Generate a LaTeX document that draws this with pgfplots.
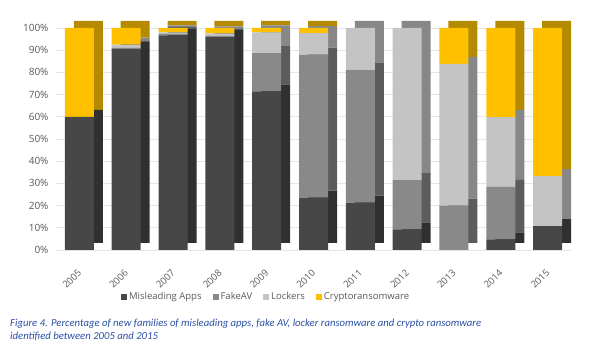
\documentclass[border=0pt]{standalone}
\usepackage{pgfplots}
\pgfplotsset{compat=1.18}
\usepackage{pgfplotstable}
\usepackage{fontspec}
\setmainfont{Carlito}
\newfontfamily\ticksfont{Open Sans}
\definecolor{cM}{HTML}{474747}
\definecolor{cF}{HTML}{898989}
\definecolor{cL}{HTML}{C4C4C4}
\definecolor{cC}{HTML}{FFC000}
\definecolor{cMd}{HTML}{303030}
\definecolor{cFd}{HTML}{5C5C5C}
\definecolor{cLd}{HTML}{878787}
\definecolor{cCd}{HTML}{B48A00}
\definecolor{cT}{HTML}{595959}
\definecolor{capblue}{HTML}{2A4FA5}
\pgfplotstableread{
x M F L C
0 60 0 0 40
1 90.5 0.5 1.5 7.5
2 96.7 0.6 0.7 2.0
3 95.9 0.5 1.2 2.4
4 71.5 17.2 9.3 2.0
5 23.6 64.4 9.7 2.3
6 21.3 59.7 19.0 0
7 9.3 22.2 68.5 0
8 0 20 63.8 16.2
9 4.8 23.6 31.4 40.2
10 10.8 0 22.5 66.7
}\data
\pgfplotsset{common/.style={
  width=515pt, height=222pt, scale only axis,
  at={(56pt,102pt)}, anchor=south west,
  xmin=-0.5, xmax=10.5, ymin=0, ymax=100,
  ybar stacked, bar width=29pt,
  major tick length=0pt,
  axis line style={draw=none},
  clip=false,
}}
\begin{document}
\begin{tikzpicture}
\path[use as bounding box] (0,0) rectangle (600pt,352pt);
\begin{axis}[common,
  xtick={0,...,10}, ytick={0,10,...,100},
  ymajorgrids, grid style={draw=black!10, line width=0.6pt},
  xticklabels={2005,2006,2007,2008,2009,2010,2011,2012,2013,2014,2015},
  yticklabels={0\%,10\%,20\%,30\%,40\%,50\%,60\%,70\%,80\%,90\%,100\%},
  ticklabel style={font=\ticksfont\fontsize{10}{12}\selectfont, text=cT},
  xticklabel style={font=\ticksfont\fontsize{9.5}{11}\selectfont, rotate=45, anchor=north east, xshift=-11.3pt, yshift=-8pt},
  yticklabel style={xshift=-4pt},
]
\addplot[fill=cMd, draw=none, bar shift=9pt, yshift=7pt] table[x=x,y=M]{\data};
\addplot[fill=cFd, draw=none, bar shift=9pt, yshift=7pt] table[x=x,y=F]{\data};
\addplot[fill=cLd, draw=none, bar shift=9pt, yshift=7pt] table[x=x,y=L]{\data};
\addplot[fill=cCd, draw=none, bar shift=9pt, yshift=7pt] table[x=x,y=C]{\data};
\end{axis}
\begin{axis}[common,
  xtick=\empty, ytick=\empty,
  legend columns=4,
  legend image code/.code={\fill[#1] (0pt,-3pt) rectangle (6pt,3pt);},
  legend style={draw=none, fill=none, at={(0.408,-0.212)}, anchor=center,
    font=\ticksfont\fontsize{9.5}{11}\selectfont, text=cT,
    /tikz/every even column/.append style={column sep=9pt}},
]
\addplot[fill=cM, draw=none] table[x=x,y=M]{\data};
\addplot[fill=cF, draw=none] table[x=x,y=F]{\data};
\addplot[fill=cL, draw=none] table[x=x,y=L]{\data};
\addplot[fill=cC, draw=none] table[x=x,y=C]{\data};
\legend{Misleading Apps,FakeAV,Lockers,Cryptoransomware}
\end{axis}
\node[anchor=north west, align=left, text=capblue, inner sep=0pt,
  font=\itshape\fontsize{10.7}{13}\selectfont] at (10pt,33pt)
  {Figure 4. Percentage of new families of misleading apps, fake AV, locker ransomware and crypto ransomware\\identified between 2005 and 2015};
\end{tikzpicture}
\end{document}
